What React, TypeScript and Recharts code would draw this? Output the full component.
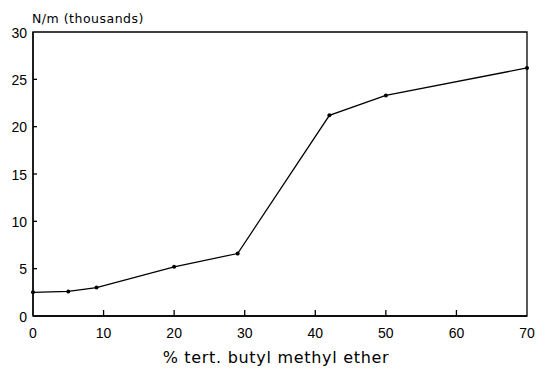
import React from 'react';
import { LineChart, Line, XAxis, YAxis, ReferenceArea } from 'recharts';

const etherPct = [0, 5, 9, 20, 29, 42, 50, 70];
const tensionK = [2.5, 2.6, 3.0, 5.2, 6.6, 21.2, 23.3, 26.2];
const xTicks = [0, 10, 20, 30, 40, 50, 60, 70];
const yTicks = [0, 5, 10, 15, 20, 25, 30];

const data = etherPct.map((x, i) => ({ x, y: tensionK[i] }));
const FONT = '"Liberation Sans", Arial, sans-serif';
const WIDE = '"DejaVu Sans", sans-serif';

const XTick = (props: any) => {
  const { x, y, payload } = props;
  return (
    <g>
      {payload.value !== 0 && payload.value !== 70 && (
        <line x1={x} x2={x} y1={y} y2={y - 6} stroke="#000" strokeWidth={1.3} />
      )}
      <text x={x} y={y + 22} textAnchor="middle" fontSize={14} fontFamily={FONT} fill="#000">
        {payload.value}
      </text>
    </g>
  );
};

const YTick = (props: any) => {
  const { x, y, payload } = props;
  return (
    <g>
      {payload.value !== 0 && payload.value !== 30 && (
        <line x1={x} x2={x + 4} y1={y} y2={y} stroke="#000" strokeWidth={1.3} />
      )}
      <text x={x - 6} y={y + 5.5} textAnchor="end" fontSize={14} fontFamily={FONT} fill="#000">
        {payload.value}
      </text>
    </g>
  );
};

export default function App() {
  return (
    <div style={{ position: 'absolute', left: 0, top: 0, background: '#fff' }}>
      <LineChart width={538} height={371} data={data} margin={{ top: 32, right: 11, left: 8, bottom: 15 }}>
        <XAxis
          dataKey="x"
          type="number"
          domain={[0, 70]}
          ticks={xTicks}
          tickSize={0}
          tickMargin={0}
          tickLine={false}
          height={40}
          axisLine={{ stroke: '#000', strokeWidth: 1.3 }}
          tick={<XTick />}
          label={{
            value: '% tert. butyl methyl ether',
            position: 'insideBottom',
            offset: 0,
            content: (p: any) => {
              const vb = p.viewBox;
              return (
                <text x={vb.x + vb.width / 2 - 4} y={vb.y + 47} textAnchor="middle" fontSize={16} letterSpacing={0.7} fontFamily={WIDE} fill="#000">
                  % tert. butyl methyl ether
                </text>
              );
            },
          }}
        />
        <YAxis
          type="number"
          domain={[0, 30]}
          ticks={yTicks}
          width={25}
          tickSize={0}
          tickMargin={0}
          tickLine={false}
          axisLine={{ stroke: '#000', strokeWidth: 1.3 }}
          tick={<YTick />}
          label={{
            value: 'N/m (thousands)',
            position: 'insideTopLeft',
            content: (p: any) => {
              const vb = p.viewBox;
              return (
                <text x={vb.x + vb.width - 1} y={vb.y - 9} textAnchor="start" fontSize={12.5} letterSpacing={0.5} fontFamily={WIDE} fill="#000">
                  N/m (thousands)
                </text>
              );
            },
          }}
        />
        <ReferenceArea x1={0} x2={70} y1={0} y2={30} fill="none" stroke="#000" strokeWidth={1.3} fillOpacity={0} ifOverflow="visible" />
        <Line
          dataKey="y"
          stroke="#000"
          strokeWidth={1.3}
          dot={{ r: 2, fill: '#000', stroke: '#000', strokeWidth: 0 }}
          isAnimationActive={false}
        />
      </LineChart>
    </div>
  );
}
